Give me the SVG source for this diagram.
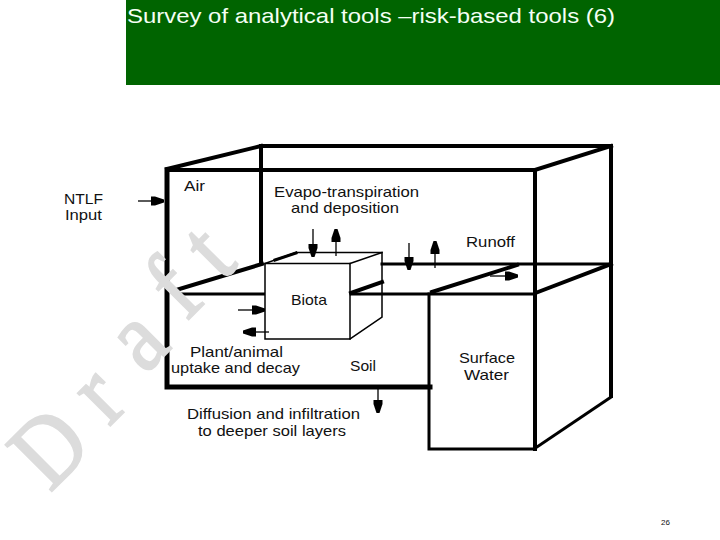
<svg xmlns="http://www.w3.org/2000/svg" width="720" height="540" viewBox="0 0 720 540">
<style>
.t{font-family:"Liberation Sans",Arial,sans-serif;font-size:15px;fill:#111}
.k{fill:none;stroke:#000;stroke-linecap:square}
.s5{stroke-width:5}.s4{stroke-width:4}.s3{stroke-width:3}.s2{stroke-width:1.5}
.a{stroke:#000;stroke-width:1.3;fill:none;marker-end:url(#h)}
.w{font-family:"Liberation Serif","Times New Roman",serif;font-size:100px;fill:#dcdcdc;stroke:#dcdcdc;stroke-width:2}
</style>
<defs>
<marker id="h" markerUnits="userSpaceOnUse" markerWidth="16" markerHeight="12" refX="14" refY="6" orient="auto">
<path d="M1 1.500H5L14 4.500V7.500L5 10.500H1Z" fill="#000"/>
</marker>
</defs>
<rect id="title-bar" x="126" y="0" width="594" height="85" fill="#006400"/>
<text id="title" x="127" y="22.500" font-family="'Liberation Sans',Arial,sans-serif" font-size="21" fill="#f4fff4" textLength="488" lengthAdjust="spacingAndGlyphs">Survey of analytical tools –risk-based tools (6)</text>
<g id="air">
<path class="k s4" d="M167 169L261 146"/>
<path class="k s4" d="M261 146H611"/>
<path class="k s4" d="M261 146V262"/>
<path class="k s4" d="M168 170H535"/>
<path class="k s4" d="M535 170L611 146"/>
<path class="k s4" d="M611 146V396"/>
<text class="t" x="184" y="191" textLength="21" lengthAdjust="spacingAndGlyphs">Air</text>
<text class="t" x="274" y="197" textLength="145" lengthAdjust="spacingAndGlyphs">Evapo-transpiration</text>
<text class="t" x="291" y="213" textLength="108" lengthAdjust="spacingAndGlyphs">and deposition</text>
<text class="t" x="466" y="247" textLength="49" lengthAdjust="spacingAndGlyphs">Runoff</text>
</g>
<g id="soil">
<path class="k s5" d="M167 170V387H430"/>
<path class="k s3" d="M175 294H265"/>
<path class="k s3" d="M350 294H535"/>
<path class="k s3" d="M382 264H611"/>
<path class="k s4" d="M173 291L262 264"/>
<path class="k s4" d="M432 292L517 265"/>
<text class="t" x="190" y="357" textLength="93" lengthAdjust="spacingAndGlyphs">Plant/animal</text>
<text class="t" x="171" y="373" textLength="129" lengthAdjust="spacingAndGlyphs">uptake and decay</text>
<text class="t" x="350" y="371" textLength="26" lengthAdjust="spacingAndGlyphs">Soil</text>
</g>
<g id="surface-water">
<path class="k s4" d="M535 170V449"/>
<path class="k s3" d="M429 294V449H535"/>
<path class="k s4" d="M538 292L611 264"/>
<path class="k s3" d="M537 447L611 397"/>
<text class="t" x="459" y="363" textLength="56" lengthAdjust="spacingAndGlyphs">Surface</text>
<text class="t" x="464" y="380" textLength="45" lengthAdjust="spacingAndGlyphs">Water</text>
</g>
<g id="biota">
<rect x="265" y="263.500" width="85" height="75.500" fill="#fff" stroke="#000" stroke-width="1.500"/>
<path class="k s2" d="M265 263.500L296 252.500H382V317L350 339"/>
<path class="k s2" d="M350 263.500L382 252.500"/>
<path class="k s3" d="M275 260L296 253"/>
<path class="k s4" d="M351 293L382 282"/>
<text class="t" x="291" y="305" textLength="36" lengthAdjust="spacingAndGlyphs">Biota</text>
</g>
<g id="connectors">
<line class="a" x1="138" y1="201" x2="164" y2="201"/>
<line class="a" x1="313" y1="229" x2="313" y2="257"/>
<line class="a" x1="336" y1="256" x2="336" y2="229"/>
<line class="a" x1="409" y1="243" x2="409" y2="270"/>
<line class="a" x1="435" y1="268" x2="435" y2="241"/>
<line class="a" x1="490" y1="276" x2="518" y2="276"/>
<line class="a" x1="238" y1="310" x2="265" y2="310"/>
<line class="a" x1="269" y1="332" x2="243" y2="332"/>
<line class="a" x1="378" y1="387" x2="378" y2="413"/>
</g>
<g id="ntlf-input">
<text class="t" x="64" y="203.500" textLength="39" lengthAdjust="spacingAndGlyphs">NTLF</text>
<text class="t" x="65" y="220" textLength="37" lengthAdjust="spacingAndGlyphs">Input</text>
</g>
<g id="diffusion">
<text class="t" x="187" y="419" textLength="173" lengthAdjust="spacingAndGlyphs">Diffusion and infiltration</text>
<text class="t" x="198" y="436" textLength="148" lengthAdjust="spacingAndGlyphs">to deeper soil layers</text>
</g>
<g id="watermark">
<text class="w" transform="translate(50 493) rotate(-45) scale(.88 1)">D</text>
<text class="w" transform="translate(109 427) rotate(-45) scale(.88 1)">r</text>
<text class="w" transform="translate(145 375) rotate(-45) scale(.88 1)">a</text>
<text class="w" transform="translate(186 322) rotate(-45) scale(.88 1)">f</text>
<text class="w" transform="translate(222 282) rotate(-45) scale(.88 1)">t</text>
</g>
<text id="page-number" x="661" y="525" font-family="'Liberation Sans',Arial,sans-serif" font-size="8" fill="#111">26</text>
</svg>
